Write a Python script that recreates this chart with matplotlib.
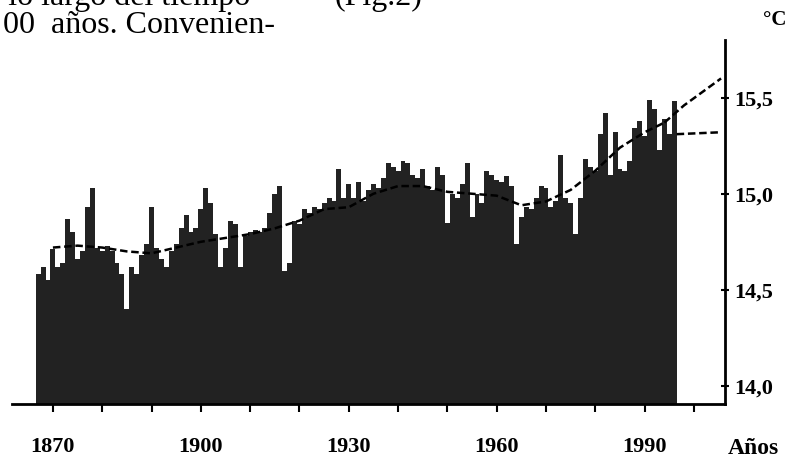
import matplotlib
matplotlib.use("Agg")
from matplotlib import pyplot as plt

# Temperatura media global anual (°C), 1867-1996
years = list(range(1867, 1997))
temps = [
    14.58, 14.62, 14.55, 14.71, 14.62, 14.64, 14.87, 14.80, 14.66, 14.70,  # 1867-1876
    14.93, 15.03, 14.72, 14.70, 14.73, 14.70, 14.64, 14.58, 14.40, 14.62,  # 1877-1886
    14.58, 14.68, 14.74, 14.93, 14.72, 14.66, 14.62, 14.70, 14.74, 14.82,  # 1887-1896
    14.89, 14.80, 14.82, 14.92, 15.03, 14.95, 14.79, 14.62, 14.72, 14.86,  # 1897-1906
    14.84, 14.62, 14.78, 14.80, 14.81, 14.80, 14.82, 14.90, 15.00, 15.04,  # 1907-1916
    14.60, 14.64, 14.86, 14.84, 14.92, 14.90, 14.93, 14.92, 14.95, 14.98,  # 1917-1926
    14.96, 15.13, 14.98, 15.05, 14.98, 15.06, 14.96, 15.02, 15.05, 15.03,  # 1927-1936
    15.08, 15.16, 15.14, 15.12, 15.17, 15.16, 15.10, 15.08, 15.13, 15.04,  # 1937-1946
    15.02, 15.14, 15.10, 14.85, 15.00, 14.98, 15.05, 15.16, 14.88, 15.00,  # 1947-1956
    14.95, 15.12, 15.10, 15.07, 15.06, 15.09, 15.04, 14.74, 14.88, 14.93,  # 1957-1966
    14.92, 14.98, 15.04, 15.03, 14.93, 14.96, 15.20, 14.98, 14.95, 14.79,  # 1967-1976
    14.98, 15.18, 15.14, 15.12, 15.31, 15.42, 15.10, 15.32, 15.13, 15.12,  # 1977-1986
    15.17, 15.34, 15.38, 15.30, 15.49, 15.44, 15.23, 15.39, 15.31, 15.48,  # 1987-1996
]

# Curva suavizada (trazo discontinuo)
smooth_years = [1870, 1875, 1880, 1885, 1890, 1895, 1900, 1905, 1910, 1915, 1920, 1925, 1930,
                1935, 1940, 1945, 1950, 1955, 1960, 1965, 1970, 1975, 1980, 1985, 1990, 1994]
smooth_temps = [14.72, 14.73, 14.72, 14.70, 14.69, 14.72, 14.75, 14.77, 14.79, 14.82, 14.86, 14.92, 14.93,
                15.00, 15.04, 15.04, 15.01, 15.00, 14.99, 14.94, 14.96, 15.02, 15.12, 15.24, 15.32, 15.37]

# Proyecciones
proj_up_years = [1994, 1998, 2005.5]
proj_up_temps = [15.37, 15.46, 15.60]
proj_flat_years = [1996.5, 2005.5]
proj_flat_temps = [15.31, 15.32]

xticks = list(range(1870, 2001, 10))
xlabels = [str(y) if y in (1870, 1900, 1930, 1960, 1990) else "" for y in xticks]
yticks = [14.0, 14.5, 15.0, 15.5]
ylabels = ["14,0", "14,5", "15,0", "15,5"]

serif = "Liberation Serif"
base = 13.906

fig = plt.figure(figsize=(7.97, 4.63), dpi=100)
ax = fig.add_axes([12 / 797, 1 - 404 / 463, (725 - 12) / 797, (404 - 40) / 463])

ax.bar(years, [t - base for t in temps], bottom=base, width=1.0, color="#222222", linewidth=0)
ax.plot(smooth_years, smooth_temps, color="black", lw=1.8, dashes=(3, 1.5))
ax.plot(proj_up_years, proj_up_temps, color="black", lw=1.8, dashes=(3, 1.5))
ax.plot(proj_flat_years, proj_flat_temps, color="black", lw=1.8, dashes=(3, 1.5))

ax.set_xlim(1861.7, 2006.3)
ax.set_ylim(base, 15.80)

for s in ("top", "left"):
    ax.spines[s].set_visible(False)
ax.spines["bottom"].set_linewidth(2)
ax.spines["right"].set_linewidth(2)

ax.set_xticks(xticks)
ax.set_xticklabels(xlabels, fontfamily=serif, fontweight="bold", fontsize=16)
ax.tick_params(axis="x", direction="out", length=6, width=1.5, pad=18)

ax.yaxis.tick_right()
ax.set_yticks(yticks)
ax.set_yticklabels(ylabels, fontfamily=serif, fontweight="bold", fontsize=16)
ax.tick_params(axis="y", direction="inout", length=6, width=1.5, pad=4)

fig.text(775 / 797, 1 - 20 / 463, "°C", fontfamily=serif, fontweight="bold", fontsize=15,
         ha="center", va="center")
fig.text(753 / 797, 1 - 449 / 463, "Años", fontfamily=serif, fontweight="bold", fontsize=17,
         ha="center", va="center")

# texto del libro que rodea la figura (la línea de arriba sale cortada, como en el original)
fig.text(250 / 797, 1 - 5 / 463, "a lo largo del tiempo", fontfamily=serif, fontsize=23,
         ha="right", va="baseline")
fig.text(335 / 797, 1 - 5 / 463, "(Fig.2)", fontfamily=serif, fontsize=23,
         ha="left", va="baseline")
fig.text(3 / 797, 1 - 33 / 463, "00  años. Convenien-", fontfamily=serif, fontsize=23,
         ha="left", va="baseline")

fig.savefig("out.png", dpi=100)
